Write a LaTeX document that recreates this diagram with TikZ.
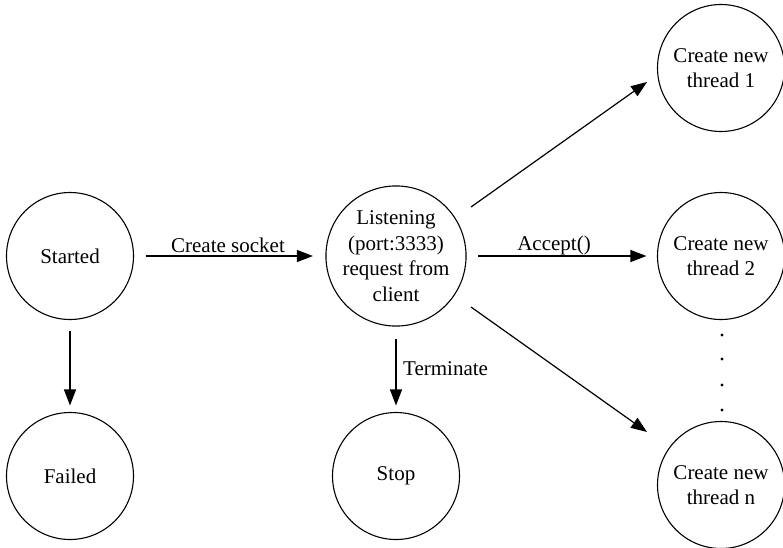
\documentclass[tikz,border=0pt]{standalone}
\usepackage{fontspec}
\setmainfont{Liberation Serif}
\usetikzlibrary{arrows.meta,calc}
\begin{document}
\begin{tikzpicture}[x=1pt,y=-1pt,
  state/.style={draw,circle,minimum size=127pt,inner sep=0pt,line width=1.1pt,align=center,font=\fontsize{21}{25.5}\selectfont},
  arr/.style={line width=1.2pt,-{Triangle[length=16pt,width=12pt]}},
  lbl/.style={font=\fontsize{21}{25}\selectfont,inner sep=0pt}]
\useasboundingbox (0,0) rectangle (783,547);
\node[state] (S) at (70,256) {Started};
\node[state] (L) at (396,256) {Listening\\(port:3333)\\request from\\client};
\node[state] (F) at (70,476) {Failed};
\node[state] (P) at (396,476) {Stop};
\node[state] (T1) at (721,68) {Create new\\thread 1};
\node[state] (T2) at (721,256) {Create new\\thread 2};
\node[state] (Tn) at (721,485) {Create new\\thread n};
\coordinate (d1s) at ($(L)+(75,-49)$);
\coordinate (d1e) at ($(T1)+(-74,14)$);
\coordinate (d2s) at ($(L)+(75,51)$);
\coordinate (d2e) at ($(Tn)+(-74,-53)$);
\draw[arr,shorten <=11.5pt,shorten >=12.5pt] (S) -- (L);
\draw[arr,shorten <=11.5pt,shorten >=10.5pt] (L) -- (T2);
\draw[arr,shorten <=10.5pt,shorten >=6.5pt] (S) -- (F);
\draw[arr,shorten <=12.5pt,shorten >=6.5pt] (L) -- (P);
\draw[arr] (d1s) -- (d1e);
\draw[arr] (d2s) -- (d2e);
\node[lbl] (lcs) at (228,245) {Create socket};
\node[lbl] (lac) at (554,245) {Accept()};
\node[lbl,anchor=west] (lte) at (403,369) {Terminate};
\foreach \yy in {335,359,385,410} \fill (722,\yy) circle (1.6pt);
\end{tikzpicture}
\end{document}
